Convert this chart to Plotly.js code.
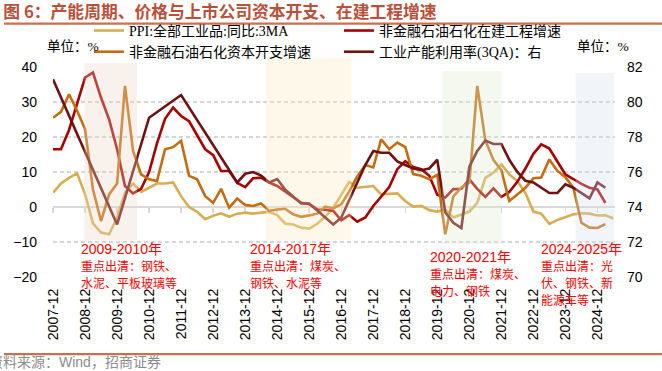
<!DOCTYPE html>
<html><head><meta charset="utf-8">
<script src="https://cdn.plot.ly/plotly-3.0.1.min.js"></script>
<style>html,body{margin:0;padding:0;background:#fff;}#chart{width:662px;height:371px;}</style>
</head><body><div id="chart"></div>
<script>
// Quarter-end labels (YYYY-MM)
const quarters = [
'2007-12','2008-03','2008-06','2008-09','2008-12','2009-03','2009-06','2009-09','2009-12',
'2010-03','2010-06','2010-09','2010-12','2011-03','2011-06','2011-09','2011-12',
'2012-03','2012-06','2012-09','2012-12','2013-03','2013-06','2013-09','2013-12',
'2014-03','2014-06','2014-09','2014-12','2015-03','2015-06','2015-09','2015-12',
'2016-03','2016-06','2016-09','2016-12','2017-03','2017-06','2017-09','2017-12',
'2018-03','2018-06','2018-09','2018-12','2019-03','2019-06','2019-09','2019-12',
'2020-03','2020-06','2020-09','2020-12','2021-03','2021-06','2021-09','2021-12',
'2022-03','2022-06','2022-09','2022-12','2023-03','2023-06','2023-09','2023-12',
'2024-03','2024-06','2024-09','2024-12','2025-03','2025-06'];

// PPI: all industrial products, YoY, 3MA (%)
const ppi = [4.1,6.7,8.3,9.6,3.6,-4.7,-7.3,-7.8,-3.0,
4.1,6.7,4.3,5.5,6.7,6.7,7.0,3.1,
0.0,-1.4,-3.5,-2.5,-1.8,-2.8,-1.9,-1.6,
-1.9,-1.6,-1.4,-2.3,-4.7,-5.0,-5.9,-6.2,
-4.8,-2.8,-0.2,3.5,7.2,5.5,5.7,6.0,
3.6,3.8,3.9,1.7,0.1,0.3,-0.9,-1.3,
-0.7,-3.0,-2.1,-1.3,1.2,8.3,9.8,12.2,
9.3,7.4,4.0,-1.3,-1.9,-4.8,-3.7,-3.0,
-2.1,-1.8,-1.9,-2.4,-2.4,-3.3];

// Non-financial ex petro: construction-in-progress growth (%)
const cip = [16.5,16.5,22.0,29.5,37.0,38.4,31.2,25.0,16.5,
6.0,3.9,5.2,10.0,18.2,25.2,28.4,26.0,
24.5,20.3,16.5,14.8,10.3,10.3,6.9,5.7,
8.2,8.4,7.0,6.0,4.5,2.8,1.2,0.8,
-0.7,-0.8,-1.1,-3.8,-2.3,-4.2,-3.0,0.3,
3.0,5.7,10.8,13.1,11.4,10.8,8.9,3.5,
2.7,5.1,5.2,7.9,5.2,2.9,5.3,2.9,
4.3,7.2,11.0,15.2,17.9,16.7,13.0,9.3,
8.0,6.6,5.5,5.0,1.2,null];

// Non-financial ex petro: capex growth (%)
const capex = [25.5,27.2,32.2,27.5,22.2,5.0,-4.0,3.6,6.7,
34.6,16.0,9.3,7.9,7.4,16.5,17.1,18.9,
8.9,7.9,3.1,1.2,5.2,-0.2,2.4,0.6,
0.3,1.0,-1.1,-0.7,-0.5,-2.1,-2.8,-2.4,
-1.9,0.1,-0.4,0.8,4.4,8.7,12.0,11.3,
19.3,16.5,18.4,17.1,9.4,8.9,7.9,9.2,
-7.8,3.0,5.6,7.0,34.6,19.0,13.5,10.5,
1.7,3.6,5.5,8.2,8.4,13.6,10.3,8.5,
5.5,-4.5,-5.9,-6.0,-4.9,null];

// Industrial capacity utilization, 3QA (%, right axis)
const capUtil = [81.3,null,null,null,null,null,null,null,73.0,
null,null,null,79.1,null,null,null,80.4,
null,null,null,null,null,null,75.4,75.9,
76.0,75.8,75.4,75.6,75.0,74.6,74.2,74.2,
73.8,73.4,73.0,73.4,74.4,75.4,76.4,77.2,
77.1,77.1,76.6,76.4,76.2,76.1,76.2,76.7,
73.7,73.1,72.8,76.3,77.2,77.8,77.6,77.6,
76.7,76.0,75.5,75.4,75.1,74.8,74.8,75.3,
75.1,74.8,74.5,75.4,75.1,null];

const seriesNames = ['PPI:全部工业品:同比:3MA','非金融石油石化在建工程增速','非金融石油石化资本开支增速','工业产能利用率(3QA)：右'];
const seriesColors = ['#d6ae52','#a80000','#c46c10','#6e1212'];
const periodLabels = [
  '<span style="font-size:14px">2009-2010年</span><br><span style="font-size:12px">重点出清：钢铁、</span><br><span style="font-size:12px">水泥、平板玻璃等</span>',
  '<span style="font-size:14px">2014-2017年</span><br><span style="font-size:12px">重点出清：煤炭、</span><br><span style="font-size:12px">钢铁、水泥等</span>',
  '<span style="font-size:14px">2020-2021年</span><br><span style="font-size:12px">重点出清：煤炭、</span><br><span style="font-size:12px">电力、钢铁</span>',
  '<span style="font-size:14px">2024-2025年</span><br><span style="font-size:12px">重点出清：光</span><br><span style="font-size:12px">伏、钢铁、新</span><br><span style="font-size:12px">能源车等</span>'];

const yearTicks = quarters.filter(q => q.endsWith('-12'));
const xRange = ['2007-12-01','2025-06-19'];
const FONT = 'Liberation Sans, Arial, Noto Sans CJK SC, sans-serif';
const CJK = 'Liberation Serif, Noto Sans CJK SC, serif';

const seriesData = [ppi, cip, capex, capUtil];
const traces = seriesData.map((vals, k) => ({
  type: 'scatter', mode: 'lines', x: quarters, y: vals, name: seriesNames[k],
  yaxis: k === 3 ? 'y2' : 'y', xaxis: 'x',
  connectgaps: k === 3,
  line: {color: seriesColors[k], width: 2.6},
  hoverinfo: 'skip'
}));

// shaded periods (decoration)
const bands = [
  {x0:'2008-11-22', x1:'2010-07-16', y0:0.176, y1:1.019, c:'rgb(235,215,195)'},
  {x0:'2014-07-25', x1:'2017-03-28', y0:0.176, y1:1.043, c:'rgb(248,232,190)'},
  {x0:'2020-01-25', x1:'2021-12-05', y0:0.157, y1:0.981, c:'rgb(222,232,205)'},
  {x0:'2024-03-28', x1:'2025-06-10', y0:0.119, y1:0.971, c:'rgb(212,225,238)'}];
const shapes = bands.map(b => ({type:'rect', xref:'x', yref:'paper', x0:b.x0, x1:b.x1, y0:b.y0, y1:b.y1,
  fillcolor:b.c, opacity:0.32, line:{width:0}, layer:'above'}));
shapes.push({type:'line', xref:'paper', yref:'paper', x0:-0.0872, x1:1.09, y0:1.207, y1:1.207, line:{color:'#c8704f', width:2.2}});
shapes.push({type:'line', xref:'paper', yref:'paper', x0:-0.0872, x1:1.09, y0:-0.367, y1:-0.367, line:{color:'#c8704f', width:2.2}});

const annPos = [[0.048,0.176],[0.349,0.176],[0.669,0.138],[0.8665,0.176]];
const annotations = periodLabels.map((t, k) => ({
  xref:'paper', yref:'paper', x:annPos[k][0], y:annPos[k][1], xanchor:'left', yanchor:'top',
  text:t, showarrow:false, align:'left', font:{family:FONT, size:13, color:'#ff0000'}, borderpad:0
}));
annotations.push({xref:'paper', yref:'paper', x:-0.0148, y:1.0986, xanchor:'left', yanchor:'middle', showarrow:false,
  text:'单位：%', font:{family:CJK, size:13.5, color:'#000'}});
annotations.push({xref:'paper', yref:'paper', x:0.9288, y:1.0986, xanchor:'left', yanchor:'middle', showarrow:false,
  text:'单位：%', font:{family:CJK, size:13.5, color:'#000'}});
annotations.push({xref:'paper', yref:'paper', x:-0.1175, y:-0.405, xanchor:'left', yanchor:'middle', showarrow:false,
  text:'资料来源：Wind，招商证券', font:{family:FONT, size:14, color:'#8c8c8c'}});

const layout = {
  width:662, height:371, paper_bgcolor:'#fff', plot_bgcolor:'#fff',
  margin:{l:53, r:47, t:67, b:94, autoexpand:false},
  showlegend:true,
  title:{text:'图 6：产能周期、价格与上市公司资本开支、在建工程增速', x:0.005, xref:'container', xanchor:'left',
    y:0.967, yref:'container', yanchor:'middle', font:{family:'Noto Sans CJK SC, sans-serif', size:16.8, color:'#b8503a', weight:'bold'}},
  legend:{orientation:'h', x:0.064, xanchor:'left', y:1.248, yanchor:'top', entrywidth:205, entrywidthmode:'pixels',
    font:{family:CJK, size:14, color:'#000'}, bgcolor:'rgba(0,0,0,0)', tracegroupgap:0},
  xaxis:{type:'date', range:xRange, tickvals:yearTicks, tickformat:'%Y-%m', tickangle:-90,
    showgrid:false, showline:false, zeroline:false, ticks:'', ticklabelstandoff:8,
    tickfont:{family:FONT, size:14, color:'#000'}, fixedrange:true},
  xaxis2:{type:'date', range:xRange, overlaying:'x', anchor:'free', position:1/3, tickvals:yearTicks,
    showticklabels:false, showgrid:false, zeroline:false, showline:true, linecolor:'#d9d9d9', linewidth:2,
    ticks:'outside', ticklen:5, tickwidth:1.5, tickcolor:'#d9d9d9', layer:'below traces'},
  yaxis:{range:[-20,40], dtick:10, showgrid:true, gridcolor:'#d6d6d6', gridwidth:1.3, griddash:'4px,3px',
    zeroline:false, showline:false, ticks:'', ticklabelstandoff:15, tickfont:{family:FONT, size:14, color:'#000'}},
  yaxis2:{range:[70,82], dtick:2, overlaying:'y', side:'right', showgrid:false, zeroline:false, showline:false,
    ticks:'', ticklabelstandoff:11, tickfont:{family:FONT, size:14, color:'#000'}},
  shapes:shapes, annotations:annotations
};

traces.push({type:'scatter', mode:'lines', x:[], y:[], xaxis:'x2', yaxis:'y', showlegend:false, hoverinfo:'skip'});

Plotly.newPlot('chart', traces, layout, {displayModeBar:false, staticPlot:true});
</script></body></html>
